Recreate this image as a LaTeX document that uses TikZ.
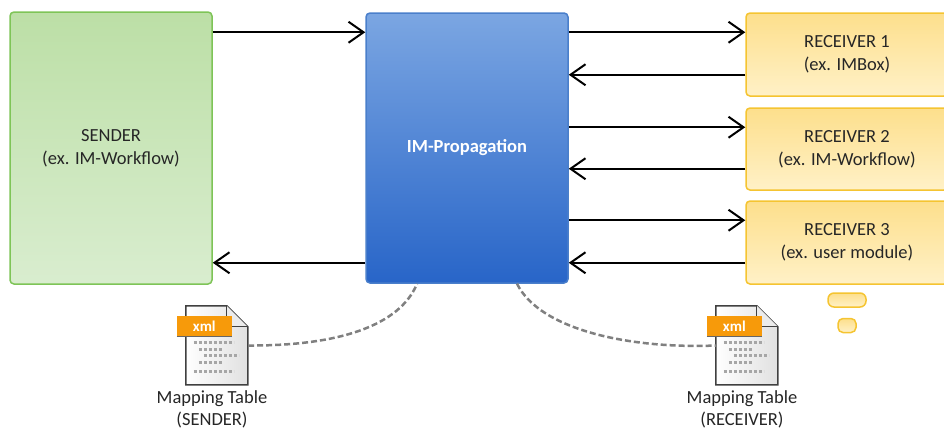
\documentclass[tikz,border=0pt]{standalone}
\usepackage{fontspec}
\setmainfont{Carlito}
\usepackage{tikz}
\usetikzlibrary{arrows.meta, calc, positioning}

\definecolor{sndtop}{HTML}{BCDFA6}
\definecolor{sndbot}{HTML}{D9EDCF}
\definecolor{sndline}{HTML}{7EC457}
\definecolor{imtop}{HTML}{7BA6E2}
\definecolor{imbot}{HTML}{2865C8}
\definecolor{imline}{HTML}{4A7FCB}
\definecolor{rcvtop}{HTML}{FDDF8C}
\definecolor{rcvbot}{HTML}{FFF1C7}
\definecolor{rcvline}{HTML}{F5C431}
\definecolor{txt}{HTML}{262626}
\definecolor{xmltag}{HTML}{F79A0A}

\tikzset{
    box/.style={rounded corners=4pt, line width=1.5pt, minimum width=202pt, align=center,
        text=txt, font=\fontsize{18.5}{23}\selectfont},
    arr/.style={line width=2pt, -{Straight Barb[length=15pt, width=21pt, line width=2pt]}},
    maplink/.style={line width=2.5pt, color=black!50, dash pattern=on 6pt off 3pt},
    maplabel/.style={text=txt, align=center, font=\fontsize{18.5}{22}\selectfont},
    dots/.style={line width=3pt, black!35, dash pattern=on 3pt off 2pt}
}

\begin{document}
\begin{tikzpicture}[x=1pt, y=-1pt]
    \useasboundingbox (0,0) rectangle (944,429);

    \node[box, minimum height=272pt, draw=sndline, top color=sndtop, bottom color=sndbot] (sender) at (111, 148) {SENDER\\(ex. IM-Workflow)};
    \node[box, minimum height=270pt, draw=imline, top color=imtop, bottom color=imbot,
        text=white, font=\fontsize{18.5}{23}\selectfont\bfseries] (improp) at (467, 148) {IM-Propagation};

    \node[box, minimum height=83pt, draw=rcvline, top color=rcvtop, bottom color=rcvbot] (rcv1) at (847, 54.5) {RECEIVER 1\\(ex. IMBox)};
    \node[box, minimum height=82pt, draw=rcvline, top color=rcvtop, bottom color=rcvbot] (rcv2) at (847, 149) {RECEIVER 2\\(ex. IM-Workflow)};
    \node[box, minimum height=83pt, draw=rcvline, top color=rcvtop, bottom color=rcvbot] (rcv3) at (847, 242.5) {RECEIVER 3\\(ex. user module)};

    % bubbles under receiver 3
    \node[rounded corners=6pt, line width=1.5pt, draw=rcvline, top color=rcvtop, bottom color=rcvbot,
        minimum width=38pt, minimum height=14pt, inner sep=0pt] (bub1) at (847, 300) {};
    \node[rounded corners=5pt, line width=1.5pt, draw=rcvline, top color=rcvtop, bottom color=rcvbot,
        minimum width=18pt, minimum height=14pt, inner sep=0pt, below=10pt of bub1] (bub2) {};

    % sender <-> propagation
    \draw[arr] ([yshift=-21pt]sender.north east) -- ([yshift=-21pt]sender.north east -| improp.west);
    \draw[arr] ([yshift=21pt]improp.south west) -- ([yshift=21pt]improp.south west -| sender.east);

    % propagation <-> receivers
    \foreach \r in {rcv1, rcv2, rcv3} {
        \draw[arr] ([yshift=-20pt]\r.north west -| improp.east) -- ([yshift=-20pt]\r.north west);
        \draw[arr] ([yshift=22pt]\r.south west) -- ([yshift=22pt]\r.south west -| improp.east);
    }

    % mapping tables
    \node[minimum width=62pt, minimum height=79pt, inner sep=0pt] (sndxml) at (217, 345.5) {};
    \node[minimum width=62pt, minimum height=79pt, inner sep=0pt] (rcvxml) at (747, 345.5) {};

    \foreach \f in {sndxml, rcvxml} {
        \begin{scope}[shift={(\f.north west)}]
            \draw[line width=1.5pt, draw=black!75, left color=white, right color=black!12]
                (0,0) -- (41,0) -- (62,21) -- (62,79) -- (0,79) -- cycle;
            \draw[line width=1.2pt, draw=black!75, fill=black!8] (41,0) -- (41,21) -- (62,21);
            \fill[xmltag] (-9,10) rectangle (46,31);
            \draw[line width=1.2pt, draw=black!60] (-9,31) -- (46,31);
            \node[text=white, font=\fontsize{15}{15}\selectfont\bfseries] at (18.5,20.5) {xml};
            \draw[dots] (8,37) -- (48,37);
            \draw[dots] (13,43.5) -- (36,43.5);
            \draw[dots] (18,50) -- (53,50);
            \draw[dots] (13,57) -- (36,57);
            \draw[dots] (8,66) -- (48,66);
        \end{scope}
    }

    \node[maplabel, below=2pt of sndxml, xshift=-5pt] (sndlbl) {Mapping Table\\(SENDER)};
    \node[maplabel, below=2pt of rcvxml, xshift=-5pt] (rcvlbl) {Mapping Table\\(RECEIVER)};

    % dashed links
    \draw[maplink] (sndxml.east) .. controls (340,346) and (400,325) .. ([xshift=-50pt]improp.south);
    \draw[maplink] ([xshift=50pt]improp.south) .. controls (540,330) and (630,349) .. (rcvxml.west);
\end{tikzpicture}
\end{document}
